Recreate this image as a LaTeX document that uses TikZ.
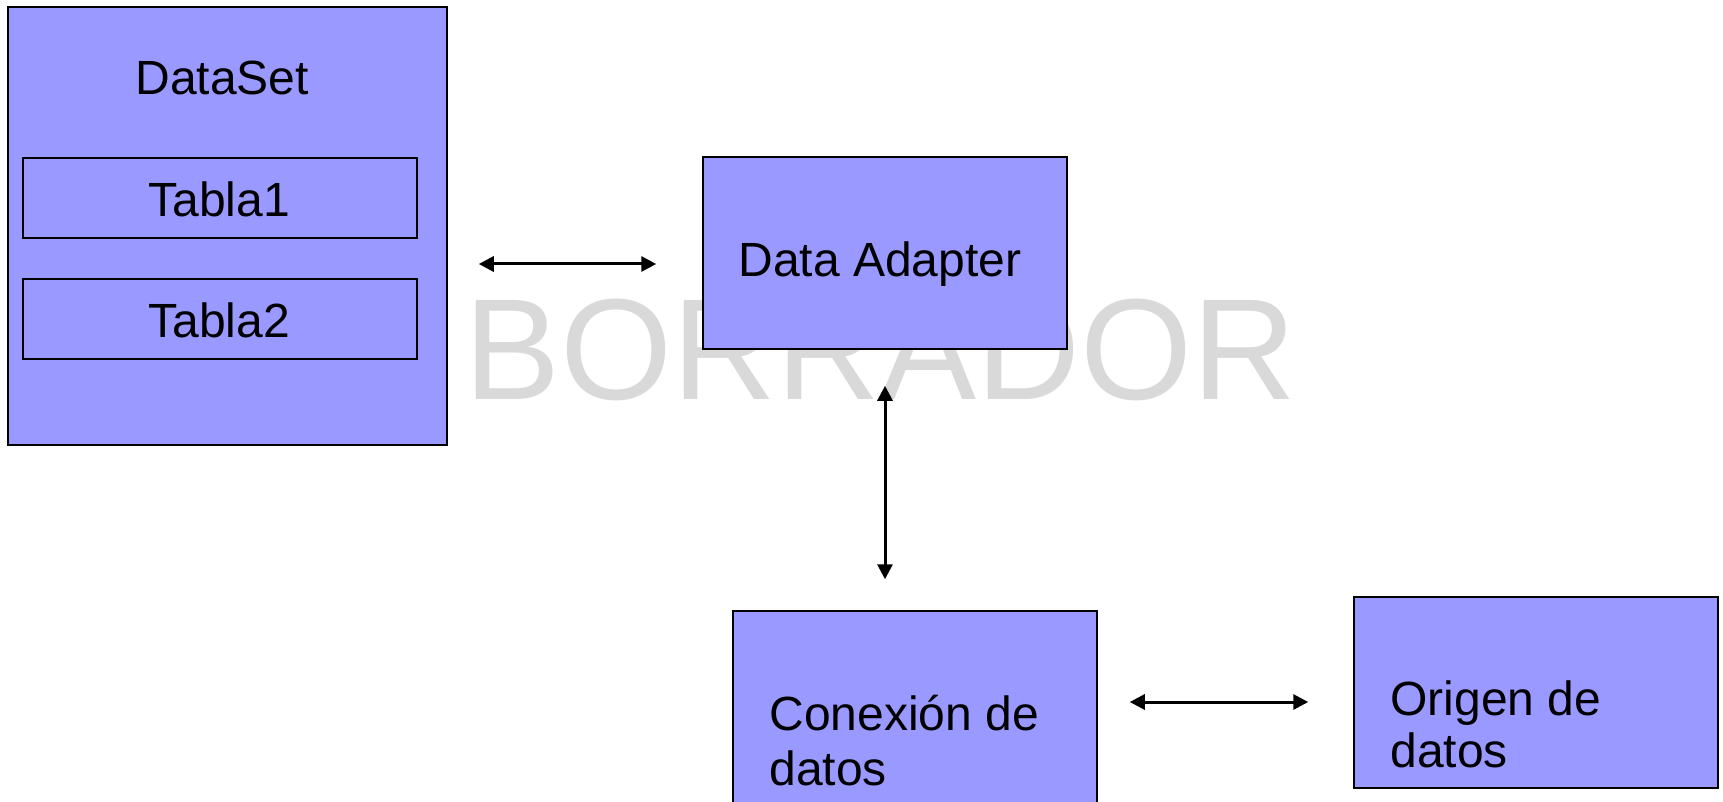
\documentclass[tikz,border=0pt]{standalone}
\usepackage{fontspec}
\setmainfont{Liberation Sans}
\usetikzlibrary{arrows.meta}
\definecolor{boxfill}{RGB}{153,153,255}
\definecolor{wmgray}{RGB}{217,217,217}
\begin{document}
\begin{tikzpicture}[x=0.5pt,y=-0.5pt,
  box/.style={draw=black, line width=0.75pt, fill=boxfill, rectangle, inner sep=0pt},
  tbox/.style={draw=black, line width=1.4pt, rectangle, inner sep=0pt},
  lbl/.style={font=\fontsize{24pt}{28pt}\selectfont, anchor=base west, inner sep=0pt},
  dbl/.style={line width=1.5pt, {Triangle[length=7.5pt,width=7.5pt]}-{Triangle[length=7.5pt,width=7.5pt]}}]
\useasboundingbox (0,0) rectangle (1723,802);
% watermark
\node[anchor=base west, inner sep=0pt, text=wmgray, font=\fontsize{72pt}{80pt}\selectfont] (wm) at (464,399) {BORRADOR};
% boxes
\node[box, minimum width=219.5pt, minimum height=219pt] (ds) at (227.5,226) {};
\node[tbox, minimum width=197pt, minimum height=40pt] (t1) at (220,198) {};
\node[tbox, minimum width=197pt, minimum height=40pt] (t2) at (220,319) {};
\node[box, minimum width=182pt, minimum height=96pt] (da) at (885,253) {};
\node[box, minimum width=182pt, minimum height=97pt] (cx) at (915,708) {};
\node[box, minimum width=182pt, minimum height=95.5pt] (og) at (1536,692.5) {};
% labels
\node[lbl] (dst) at (135,95) {DataSet};
\node[lbl] (t1t) at (148,217) {Tabla1};
\node[lbl] (t2t) at (148,337) {Tabla2};
\node[lbl] (dat) at (738,277) {Data Adapter};
\node[lbl] (cxa) at (769,730) {Conexión de};
\node[lbl] (cxb) at (769,785) {datos};
\node[lbl] (oga) at (1390,715) {Origen de};
\node[lbl] (ogb) at (1390,767) {datos};
% connectors
\coordinate (r1) at (0,264);
\coordinate (r3) at (0,702);
\draw[dbl, shorten <=15.5pt, shorten >=23pt] (ds.east |- r1) -- (da.west |- r1);
\draw[dbl, shorten <=18pt, shorten >=15.5pt] (da.south) -- (da.south |- cx.north);
\draw[dbl, shorten <=16pt, shorten >=22.5pt] (cx.east |- r3) -- (og.west |- r3);
\end{tikzpicture}
\end{document}
